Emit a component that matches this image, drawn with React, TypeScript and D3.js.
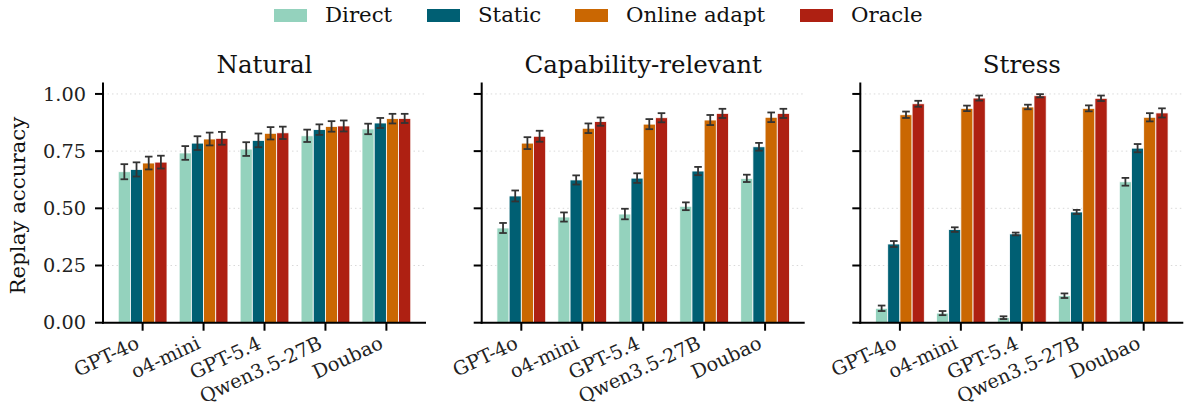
import React, { useMemo } from "react";
import * as d3 from "d3";

const MODELS = ["GPT-4o", "o4-mini", "GPT-5.4", "Qwen3.5-27B", "Doubao"];
const METHODS = ["Direct", "Static", "Online adapt", "Oracle"];
const COLORS = ["#94d2bd", "#005f73", "#ca6702", "#ae2012"];
const PANEL_TITLES = ["Natural", "Capability-relevant", "Stress"];
const Y_TICKS = [0, 0.25, 0.5, 0.75, 1.0];

// rows = method (Direct, Static, Online adapt, Oracle), cols = model
const naturalMean = [
  [0.66, 0.742, 0.759, 0.817, 0.847],
  [0.67, 0.785, 0.797, 0.844, 0.873],
  [0.698, 0.803, 0.828, 0.858, 0.892],
  [0.702, 0.806, 0.83, 0.86, 0.893]
];
const naturalErr = [
  [0.033, 0.03, 0.03, 0.027, 0.023],
  [0.031, 0.03, 0.03, 0.023, 0.022],
  [0.028, 0.028, 0.027, 0.023, 0.021],
  [0.028, 0.028, 0.027, 0.024, 0.02]
];
const capabilityMean = [
  [0.414, 0.462, 0.475, 0.509, 0.631],
  [0.554, 0.624, 0.632, 0.663, 0.769],
  [0.785, 0.85, 0.868, 0.886, 0.898],
  [0.815, 0.879, 0.896, 0.915, 0.915]
];
const capabilityErr = [
  [0.022, 0.02, 0.023, 0.017, 0.016],
  [0.024, 0.02, 0.021, 0.018, 0.017],
  [0.026, 0.021, 0.022, 0.022, 0.021],
  [0.024, 0.018, 0.02, 0.02, 0.02]
];
const stressMean = [
  [0.063, 0.042, 0.022, 0.118, 0.616],
  [0.344, 0.407, 0.388, 0.484, 0.763],
  [0.909, 0.937, 0.943, 0.937, 0.898],
  [0.957, 0.982, 0.992, 0.981, 0.917]
];
const stressErr = [
  [0.012, 0.009, 0.006, 0.01, 0.017],
  [0.013, 0.01, 0.006, 0.009, 0.018],
  [0.014, 0.012, 0.01, 0.013, 0.018],
  [0.013, 0.011, 0.007, 0.012, 0.02]
];

const W = 1186;
const H = 412;
const FONT = "DejaVu Serif";
const PANEL_LEFT = [103, 481.7, 860.3];
const PANEL_W = 323;
const Y_BOTTOM = 322.7;
const Y_TOP = 82.5;
const BAR_W = 0.2;
const LEGEND_X = [274, 427, 575, 800];

function Panel({ left, title, means, errs, showLabels }) {
  const x = useMemo(
    () => d3.scaleLinear().domain([-0.65, 4.65]).range([left, left + PANEL_W]),
    [left]
  );
  const y = useMemo(() => d3.scaleLinear().domain([0, 1.05]).range([Y_BOTTOM, Y_TOP]), []);

  return (
    <g>
      {Y_TICKS.filter((t) => t > 0).map((t) => (
        <line
          key={"g" + t}
          x1={left}
          x2={left + PANEL_W}
          y1={y(t)}
          y2={y(t)}
          stroke="#d9d9d9"
          strokeWidth={1}
          strokeDasharray="1.5,3"
        />
      ))}
      {METHODS.map((m, k) =>
        MODELS.map((model, i) => {
          const cx = x(i + (k - 1.5) * BAR_W);
          const x0 = x(i + (k - 2) * BAR_W);
          const x1 = x(i + (k - 1) * BAR_W);
          const v = means[k][i];
          const e = errs[k][i];
          return (
            <g key={m + model}>
              <rect
                x={x0}
                y={y(v)}
                width={x1 - x0}
                height={y(0) - y(v)}
                fill={COLORS[k]}
                stroke="#fff"
                strokeWidth={0.8}
              />
              <g stroke="#333" strokeWidth={1.8}>
                <line x1={cx} x2={cx} y1={y(v - e)} y2={y(v + e)} />
                <line x1={cx - 3.8} x2={cx + 3.8} y1={y(v - e)} y2={y(v - e)} />
                <line x1={cx - 3.8} x2={cx + 3.8} y1={y(v + e)} y2={y(v + e)} />
              </g>
            </g>
          );
        })
      )}
      {/* spines */}
      <line x1={left} x2={left} y1={Y_TOP} y2={Y_BOTTOM + 1} stroke="#000" strokeWidth={2} />
      <line x1={left - 1} x2={left + PANEL_W} y1={Y_BOTTOM} y2={Y_BOTTOM} stroke="#000" strokeWidth={2} />
      {Y_TICKS.map((t) => (
        <g key={"yt" + t}>
          <line x1={left - 8} x2={left} y1={y(t)} y2={y(t)} stroke="#000" strokeWidth={2} />
          {showLabels && (
            <text
              x={left - 17}
              y={y(t)}
              dy="0.35em"
              textAnchor="end"
              fontSize={19.3}
              fontFamily={FONT}
              fill="#222"
            >
              {t.toFixed(2)}
            </text>
          )}
        </g>
      ))}
      {MODELS.map((model, i) => (
        <g key={"xt" + model}>
          <line x1={x(i)} x2={x(i)} y1={Y_BOTTOM} y2={Y_BOTTOM + 8} stroke="#000" strokeWidth={2} />
          <text
            transform={`translate(${x(i) - 2},${Y_BOTTOM + 25}) rotate(-25)`}
            textAnchor="end"
            fontSize={19.3}
            fontFamily={FONT}
            fill="#222"
          >
            {model}
          </text>
        </g>
      ))}
      <text
        x={left + PANEL_W / 2}
        y={73}
        textAnchor="middle"
        fontSize={24.5}
        fontFamily={FONT}
        fill="#111"
      >
        {title}
      </text>
    </g>
  );
}

export default function App() {
  const panels = [
    { means: naturalMean, errs: naturalErr },
    { means: capabilityMean, errs: capabilityErr },
    { means: stressMean, errs: stressErr }
  ];
  return (
    <svg
      width={W}
      height={H}
      viewBox={`0 0 ${W} ${H}`}
      style={{ position: "absolute", left: 0, top: 0, background: "#fff" }}
    >
      <rect width={W} height={H} fill="#fff" />
      {panels.map((p, j) => (
        <Panel
          key={PANEL_TITLES[j]}
          left={PANEL_LEFT[j]}
          title={PANEL_TITLES[j]}
          means={p.means}
          errs={p.errs}
          showLabels={j === 0}
        />
      ))}
      <text
        transform={`translate(25,${(Y_TOP + Y_BOTTOM) / 2 + 3}) rotate(-90)`}
        textAnchor="middle"
        fontSize={21.3}
        fontFamily={FONT}
        fill="#111"
      >
        Replay accuracy
      </text>
      {METHODS.map((m, k) => (
        <g key={"lg" + m}>
          <rect x={LEGEND_X[k]} y={9} width={33} height={13} fill={COLORS[k]} />
          <text
            x={LEGEND_X[k] + 51}
            y={22}
            fontSize={21.3}
            fontFamily={FONT}
            fill="#111"
          >
            {m}
          </text>
        </g>
      ))}
    </svg>
  );
}
